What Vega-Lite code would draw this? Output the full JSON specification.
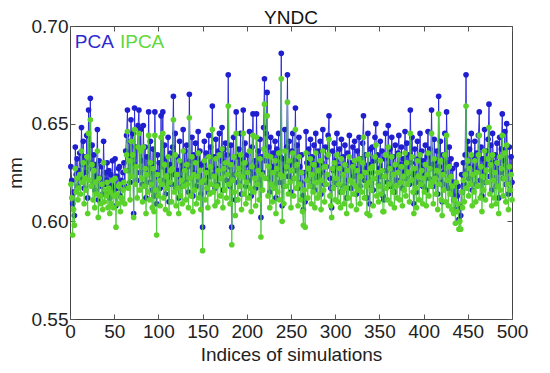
{
"$schema":"https://vega.github.io/schema/vega-lite/v6.json",
"width":442,"height":293,
"autosize":{"type":"none"},
"padding":{"left":70,"top":26,"right":38,"bottom":54},
"background":"white",
"config":{"font":"Liberation Sans","view":{"stroke":"#444","strokeWidth":1}},
"title":{"text":"YNDC","fontSize":19,"fontWeight":"normal","color":"#111","offset":-11},
"datasets":{"d":[
{"i":1,"p":0.628,"q":0.619},{"i":2,"p":0.621,"q":0.612},{"i":3,"p":0.609,"q":0.593},{"i":4,"p":0.615,"q":0.606},{"i":5,"p":0.603,"q":0.598},{"i":6,"p":0.638,"q":0.627},{"i":7,"p":0.624,"q":0.615},{"i":8,"p":0.632,"q":0.622},{"i":9,"p":0.618,"q":0.611},{"i":10,"p":0.626,"q":0.617},
{"i":11,"p":0.635,"q":0.624},{"i":12,"p":0.622,"q":0.614},{"i":13,"p":0.648,"q":0.636},{"i":14,"p":0.629,"q":0.62},{"i":15,"p":0.641,"q":0.63},{"i":16,"p":0.617,"q":0.609},{"i":17,"p":0.633,"q":0.622},{"i":18,"p":0.625,"q":0.616},{"i":19,"p":0.644,"q":0.633},{"i":20,"p":0.612,"q":0.604},
{"i":21,"p":0.657,"q":0.645},{"i":22,"p":0.63,"q":0.621},{"i":23,"p":0.663,"q":0.652},{"i":24,"p":0.627,"q":0.618},{"i":25,"p":0.639,"q":0.629},{"i":26,"p":0.62,"q":0.611},{"i":27,"p":0.634,"q":0.626},{"i":28,"p":0.616,"q":0.607},{"i":29,"p":0.629,"q":0.62},{"i":30,"p":0.623,"q":0.614},
{"i":31,"p":0.647,"q":0.636},{"i":32,"p":0.611,"q":0.602},{"i":33,"p":0.631,"q":0.622},{"i":34,"p":0.622,"q":0.613},{"i":35,"p":0.618,"q":0.609},{"i":36,"p":0.628,"q":0.619},{"i":37,"p":0.614,"q":0.606},{"i":38,"p":0.641,"q":0.63},{"i":39,"p":0.619,"q":0.61},{"i":40,"p":0.625,"q":0.616},
{"i":41,"p":0.621,"q":0.613},{"i":42,"p":0.63,"q":0.62},{"i":43,"p":0.615,"q":0.607},{"i":44,"p":0.626,"q":0.617},{"i":45,"p":0.612,"q":0.604},{"i":46,"p":0.624,"q":0.615},{"i":47,"p":0.618,"q":0.609},{"i":48,"p":0.631,"q":0.621},{"i":49,"p":0.616,"q":0.607},{"i":50,"p":0.622,"q":0.613},
{"i":51,"p":0.632,"q":0.622},{"i":52,"p":0.608,"q":0.597},{"i":53,"p":0.623,"q":0.614},{"i":54,"p":0.617,"q":0.609},{"i":55,"p":0.627,"q":0.618},{"i":56,"p":0.628,"q":0.619},{"i":57,"p":0.613,"q":0.605},{"i":58,"p":0.621,"q":0.612},{"i":59,"p":0.619,"q":0.61},{"i":60,"p":0.625,"q":0.616},
{"i":61,"p":0.63,"q":0.62},{"i":62,"p":0.618,"q":0.609},{"i":63,"p":0.636,"q":0.626},{"i":64,"p":0.644,"q":0.634},{"i":65,"p":0.657,"q":0.646},{"i":66,"p":0.626,"q":0.617},{"i":67,"p":0.641,"q":0.631},{"i":68,"p":0.62,"q":0.611},{"i":69,"p":0.652,"q":0.641},{"i":70,"p":0.633,"q":0.623},
{"i":71,"p":0.645,"q":0.634},{"i":72,"p":0.604,"q":0.602},{"i":73,"p":0.658,"q":0.647},{"i":74,"p":0.629,"q":0.619},{"i":75,"p":0.638,"q":0.628},{"i":76,"p":0.621,"q":0.612},{"i":77,"p":0.649,"q":0.638},{"i":78,"p":0.657,"q":0.645},{"i":79,"p":0.625,"q":0.616},{"i":80,"p":0.647,"q":0.636},
{"i":81,"p":0.631,"q":0.622},{"i":82,"p":0.619,"q":0.61},{"i":83,"p":0.649,"q":0.638},{"i":84,"p":0.627,"q":0.618},{"i":85,"p":0.638,"q":0.627},{"i":86,"p":0.612,"q":0.604},{"i":87,"p":0.633,"q":0.624},{"i":88,"p":0.624,"q":0.615},{"i":89,"p":0.656,"q":0.644},{"i":90,"p":0.62,"q":0.611},
{"i":91,"p":0.641,"q":0.63},{"i":92,"p":0.628,"q":0.619},{"i":93,"p":0.616,"q":0.607},{"i":94,"p":0.637,"q":0.627},{"i":95,"p":0.613,"q":0.605},{"i":96,"p":0.656,"q":0.644},{"i":97,"p":0.625,"q":0.616},{"i":98,"p":0.609,"q":0.593},{"i":99,"p":0.634,"q":0.624},{"i":100,"p":0.622,"q":0.613},
{"i":101,"p":0.63,"q":0.621},{"i":102,"p":0.617,"q":0.608},{"i":103,"p":0.654,"q":0.643},{"i":104,"p":0.628,"q":0.619},{"i":105,"p":0.656,"q":0.645},{"i":106,"p":0.621,"q":0.612},{"i":107,"p":0.639,"q":0.629},{"i":108,"p":0.614,"q":0.606},{"i":109,"p":0.632,"q":0.623},{"i":110,"p":0.626,"q":0.617},
{"i":111,"p":0.643,"q":0.633},{"i":112,"p":0.61,"q":0.604},{"i":113,"p":0.629,"q":0.62},{"i":114,"p":0.635,"q":0.626},{"i":115,"p":0.619,"q":0.61},{"i":116,"p":0.638,"q":0.627},{"i":117,"p":0.664,"q":0.652},{"i":118,"p":0.624,"q":0.615},{"i":119,"p":0.645,"q":0.634},{"i":120,"p":0.617,"q":0.608},
{"i":121,"p":0.633,"q":0.624},{"i":122,"p":0.626,"q":0.617},{"i":123,"p":0.612,"q":0.604},{"i":124,"p":0.641,"q":0.631},{"i":125,"p":0.622,"q":0.613},{"i":126,"p":0.63,"q":0.621},{"i":127,"p":0.618,"q":0.609},{"i":128,"p":0.647,"q":0.636},{"i":129,"p":0.627,"q":0.618},{"i":130,"p":0.636,"q":0.626},
{"i":131,"p":0.62,"q":0.611},{"i":132,"p":0.639,"q":0.629},{"i":133,"p":0.628,"q":0.619},{"i":134,"p":0.615,"q":0.607},{"i":135,"p":0.665,"q":0.653},{"i":136,"p":0.631,"q":0.622},{"i":137,"p":0.622,"q":0.613},{"i":138,"p":0.643,"q":0.633},{"i":139,"p":0.613,"q":0.605},{"i":140,"p":0.634,"q":0.624},
{"i":141,"p":0.625,"q":0.616},{"i":142,"p":0.64,"q":0.63},{"i":143,"p":0.618,"q":0.609},{"i":144,"p":0.632,"q":0.623},{"i":145,"p":0.646,"q":0.635},{"i":146,"p":0.621,"q":0.612},{"i":147,"p":0.636,"q":0.626},{"i":148,"p":0.614,"q":0.606},{"i":149,"p":0.629,"q":0.62},{"i":150,"p":0.597,"q":0.585},
{"i":151,"p":0.63,"q":0.621},{"i":152,"p":0.641,"q":0.631},{"i":153,"p":0.62,"q":0.611},{"i":154,"p":0.635,"q":0.625},{"i":155,"p":0.626,"q":0.617},{"i":156,"p":0.615,"q":0.607},{"i":157,"p":0.644,"q":0.633},{"i":158,"p":0.623,"q":0.614},{"i":159,"p":0.638,"q":0.628},{"i":160,"p":0.628,"q":0.619},
{"i":161,"p":0.659,"q":0.647},{"i":162,"p":0.624,"q":0.615},{"i":163,"p":0.633,"q":0.623},{"i":164,"p":0.617,"q":0.608},{"i":165,"p":0.642,"q":0.632},{"i":166,"p":0.627,"q":0.618},{"i":167,"p":0.619,"q":0.61},{"i":168,"p":0.636,"q":0.626},{"i":169,"p":0.645,"q":0.634},{"i":170,"p":0.622,"q":0.613},
{"i":171,"p":0.631,"q":0.622},{"i":172,"p":0.648,"q":0.637},{"i":173,"p":0.616,"q":0.607},{"i":174,"p":0.637,"q":0.627},{"i":175,"p":0.625,"q":0.616},{"i":176,"p":0.64,"q":0.63},{"i":177,"p":0.621,"q":0.612},{"i":178,"p":0.634,"q":0.624},{"i":179,"p":0.675,"q":0.659},{"i":180,"p":0.628,"q":0.619},
{"i":181,"p":0.618,"q":0.609},{"i":182,"p":0.639,"q":0.629},{"i":183,"p":0.597,"q":0.588},{"i":184,"p":0.63,"q":0.621},{"i":185,"p":0.643,"q":0.633},{"i":186,"p":0.624,"q":0.615},{"i":187,"p":0.611,"q":0.603},{"i":188,"p":0.656,"q":0.645},{"i":189,"p":0.633,"q":0.624},{"i":190,"p":0.62,"q":0.611},
{"i":191,"p":0.637,"q":0.627},{"i":192,"p":0.627,"q":0.618},{"i":193,"p":0.645,"q":0.634},{"i":194,"p":0.614,"q":0.606},{"i":195,"p":0.632,"q":0.623},{"i":196,"p":0.657,"q":0.645},{"i":197,"p":0.623,"q":0.614},{"i":198,"p":0.64,"q":0.63},{"i":199,"p":0.618,"q":0.609},{"i":200,"p":0.629,"q":0.62},
{"i":201,"p":0.634,"q":0.625},{"i":202,"p":0.621,"q":0.612},{"i":203,"p":0.646,"q":0.636},{"i":204,"p":0.626,"q":0.617},{"i":205,"p":0.613,"q":0.605},{"i":206,"p":0.638,"q":0.628},{"i":207,"p":0.655,"q":0.644},{"i":208,"p":0.624,"q":0.615},{"i":209,"p":0.631,"q":0.622},{"i":210,"p":0.617,"q":0.608},
{"i":211,"p":0.655,"q":0.643},{"i":212,"p":0.628,"q":0.619},{"i":213,"p":0.636,"q":0.626},{"i":214,"p":0.62,"q":0.611},{"i":215,"p":0.642,"q":0.632},{"i":216,"p":0.602,"q":0.592},{"i":217,"p":0.633,"q":0.624},{"i":218,"p":0.625,"q":0.616},{"i":219,"p":0.648,"q":0.637},{"i":220,"p":0.673,"q":0.66},
{"i":221,"p":0.631,"q":0.622},{"i":222,"p":0.645,"q":0.634},{"i":223,"p":0.666,"q":0.654},{"i":224,"p":0.622,"q":0.613},{"i":225,"p":0.638,"q":0.628},{"i":226,"p":0.615,"q":0.607},{"i":227,"p":0.643,"q":0.633},{"i":228,"p":0.628,"q":0.619},{"i":229,"p":0.619,"q":0.61},{"i":230,"p":0.635,"q":0.625},
{"i":231,"p":0.626,"q":0.617},{"i":232,"p":0.641,"q":0.631},{"i":233,"p":0.612,"q":0.604},{"i":234,"p":0.637,"q":0.627},{"i":235,"p":0.624,"q":0.615},{"i":236,"p":0.645,"q":0.635},{"i":237,"p":0.62,"q":0.611},{"i":238,"p":0.633,"q":0.624},{"i":239,"p":0.686,"q":0.673},{"i":240,"p":0.608,"q":0.6},
{"i":241,"p":0.632,"q":0.623},{"i":242,"p":0.618,"q":0.609},{"i":243,"p":0.647,"q":0.636},{"i":244,"p":0.627,"q":0.618},{"i":245,"p":0.638,"q":0.628},{"i":246,"p":0.675,"q":0.661},{"i":247,"p":0.623,"q":0.614},{"i":248,"p":0.641,"q":0.631},{"i":249,"p":0.629,"q":0.62},{"i":250,"p":0.615,"q":0.607},
{"i":251,"p":0.636,"q":0.626},{"i":252,"p":0.645,"q":0.635},{"i":253,"p":0.622,"q":0.613},{"i":254,"p":0.631,"q":0.622},{"i":255,"p":0.658,"q":0.647},{"i":256,"p":0.626,"q":0.617},{"i":257,"p":0.639,"q":0.629},{"i":258,"p":0.617,"q":0.608},{"i":259,"p":0.643,"q":0.633},{"i":260,"p":0.628,"q":0.619},
{"i":261,"p":0.62,"q":0.611},{"i":262,"p":0.634,"q":0.625},{"i":263,"p":0.613,"q":0.605},{"i":264,"p":0.606,"q":0.598},{"i":265,"p":0.625,"q":0.616},{"i":266,"p":0.61,"q":0.597},{"i":267,"p":0.646,"q":0.635},{"i":268,"p":0.63,"q":0.621},{"i":269,"p":0.621,"q":0.612},{"i":270,"p":0.637,"q":0.627},
{"i":271,"p":0.627,"q":0.618},{"i":272,"p":0.642,"q":0.632},{"i":273,"p":0.618,"q":0.609},{"i":274,"p":0.633,"q":0.624},{"i":275,"p":0.624,"q":0.615},{"i":276,"p":0.639,"q":0.629},{"i":277,"p":0.616,"q":0.607},{"i":278,"p":0.645,"q":0.635},{"i":279,"p":0.629,"q":0.62},{"i":280,"p":0.621,"q":0.612},
{"i":281,"p":0.636,"q":0.626},{"i":282,"p":0.623,"q":0.614},{"i":283,"p":0.641,"q":0.631},{"i":284,"p":0.614,"q":0.606},{"i":285,"p":0.63,"q":0.621},{"i":286,"p":0.647,"q":0.636},{"i":287,"p":0.625,"q":0.616},{"i":288,"p":0.619,"q":0.61},{"i":289,"p":0.638,"q":0.628},{"i":290,"p":0.628,"q":0.619},
{"i":291,"p":0.633,"q":0.624},{"i":292,"p":0.644,"q":0.634},{"i":293,"p":0.654,"q":0.642},{"i":294,"p":0.622,"q":0.613},{"i":295,"p":0.617,"q":0.608},{"i":296,"p":0.607,"q":0.602},{"i":297,"p":0.636,"q":0.627},{"i":298,"p":0.626,"q":0.617},{"i":299,"p":0.64,"q":0.63},{"i":300,"p":0.62,"q":0.611},
{"i":301,"p":0.631,"q":0.622},{"i":302,"p":0.645,"q":0.634},{"i":303,"p":0.619,"q":0.61},{"i":304,"p":0.628,"q":0.619},{"i":305,"p":0.637,"q":0.627},{"i":306,"p":0.615,"q":0.607},{"i":307,"p":0.642,"q":0.632},{"i":308,"p":0.624,"q":0.615},{"i":309,"p":0.633,"q":0.624},{"i":310,"p":0.618,"q":0.609},
{"i":311,"p":0.639,"q":0.629},{"i":312,"p":0.626,"q":0.617},{"i":313,"p":0.612,"q":0.604},{"i":314,"p":0.635,"q":0.626},{"i":315,"p":0.621,"q":0.612},{"i":316,"p":0.644,"q":0.633},{"i":317,"p":0.63,"q":0.621},{"i":318,"p":0.617,"q":0.608},{"i":319,"p":0.629,"q":0.62},{"i":320,"p":0.638,"q":0.628},
{"i":321,"p":0.623,"q":0.614},{"i":322,"p":0.641,"q":0.631},{"i":323,"p":0.627,"q":0.618},{"i":324,"p":0.614,"q":0.606},{"i":325,"p":0.636,"q":0.626},{"i":326,"p":0.625,"q":0.616},{"i":327,"p":0.643,"q":0.632},{"i":328,"p":0.618,"q":0.609},{"i":329,"p":0.632,"q":0.623},{"i":330,"p":0.624,"q":0.615},
{"i":331,"p":0.64,"q":0.63},{"i":332,"p":0.654,"q":0.643},{"i":333,"p":0.621,"q":0.612},{"i":334,"p":0.634,"q":0.625},{"i":335,"p":0.627,"q":0.618},{"i":336,"p":0.612,"q":0.604},{"i":337,"p":0.645,"q":0.634},{"i":338,"p":0.629,"q":0.62},{"i":339,"p":0.609,"q":0.603},{"i":340,"p":0.637,"q":0.627},
{"i":341,"p":0.625,"q":0.616},{"i":342,"p":0.638,"q":0.628},{"i":343,"p":0.616,"q":0.608},{"i":344,"p":0.631,"q":0.622},{"i":345,"p":0.643,"q":0.633},{"i":346,"p":0.65,"q":0.639},{"i":347,"p":0.622,"q":0.613},{"i":348,"p":0.634,"q":0.625},{"i":349,"p":0.619,"q":0.61},{"i":350,"p":0.627,"q":0.618},
{"i":351,"p":0.641,"q":0.631},{"i":352,"p":0.623,"q":0.614},{"i":353,"p":0.636,"q":0.626},{"i":354,"p":0.613,"q":0.605},{"i":355,"p":0.611,"q":0.605},{"i":356,"p":0.632,"q":0.623},{"i":357,"p":0.645,"q":0.634},{"i":358,"p":0.626,"q":0.617},{"i":359,"p":0.62,"q":0.611},{"i":360,"p":0.649,"q":0.638},
{"i":361,"p":0.628,"q":0.619},{"i":362,"p":0.637,"q":0.627},{"i":363,"p":0.618,"q":0.609},{"i":364,"p":0.643,"q":0.633},{"i":365,"p":0.624,"q":0.615},{"i":366,"p":0.633,"q":0.624},{"i":367,"p":0.615,"q":0.607},{"i":368,"p":0.639,"q":0.629},{"i":369,"p":0.627,"q":0.618},{"i":370,"p":0.621,"q":0.612},
{"i":371,"p":0.635,"q":0.625},{"i":372,"p":0.644,"q":0.634},{"i":373,"p":0.62,"q":0.611},{"i":374,"p":0.629,"q":0.62},{"i":375,"p":0.638,"q":0.628},{"i":376,"p":0.617,"q":0.608},{"i":377,"p":0.632,"q":0.623},{"i":378,"p":0.625,"q":0.616},{"i":379,"p":0.646,"q":0.635},{"i":380,"p":0.622,"q":0.613},
{"i":381,"p":0.64,"q":0.63},{"i":382,"p":0.628,"q":0.619},{"i":383,"p":0.634,"q":0.625},{"i":384,"p":0.619,"q":0.61},{"i":385,"p":0.657,"q":0.645},{"i":386,"p":0.63,"q":0.621},{"i":387,"p":0.643,"q":0.633},{"i":388,"p":0.624,"q":0.615},{"i":389,"p":0.609,"q":0.604},{"i":390,"p":0.637,"q":0.627},
{"i":391,"p":0.626,"q":0.617},{"i":392,"p":0.615,"q":0.607},{"i":393,"p":0.641,"q":0.631},{"i":394,"p":0.632,"q":0.623},{"i":395,"p":0.62,"q":0.611},{"i":396,"p":0.645,"q":0.634},{"i":397,"p":0.628,"q":0.619},{"i":398,"p":0.636,"q":0.626},{"i":399,"p":0.618,"q":0.609},{"i":400,"p":0.631,"q":0.622},
{"i":401,"p":0.624,"q":0.615},{"i":402,"p":0.639,"q":0.629},{"i":403,"p":0.616,"q":0.608},{"i":404,"p":0.633,"q":0.624},{"i":405,"p":0.646,"q":0.635},{"i":406,"p":0.622,"q":0.613},{"i":407,"p":0.637,"q":0.627},{"i":408,"p":0.627,"q":0.618},{"i":409,"p":0.657,"q":0.645},{"i":410,"p":0.629,"q":0.62},
{"i":411,"p":0.618,"q":0.609},{"i":412,"p":0.642,"q":0.632},{"i":413,"p":0.631,"q":0.622},{"i":414,"p":0.623,"q":0.614},{"i":415,"p":0.636,"q":0.626},{"i":416,"p":0.614,"q":0.606},{"i":417,"p":0.664,"q":0.655},{"i":418,"p":0.628,"q":0.619},{"i":419,"p":0.641,"q":0.631},{"i":420,"p":0.62,"q":0.611},
{"i":421,"p":0.61,"q":0.603},{"i":422,"p":0.634,"q":0.624},{"i":423,"p":0.625,"q":0.616},{"i":424,"p":0.645,"q":0.634},{"i":425,"p":0.619,"q":0.61},{"i":426,"p":0.656,"q":0.644},{"i":427,"p":0.63,"q":0.621},{"i":428,"p":0.617,"q":0.608},{"i":429,"p":0.638,"q":0.628},{"i":430,"p":0.623,"q":0.614},
{"i":431,"p":0.632,"q":0.623},{"i":432,"p":0.614,"q":0.606},{"i":433,"p":0.627,"q":0.618},{"i":434,"p":0.611,"q":0.604},{"i":435,"p":0.62,"q":0.611},{"i":436,"p":0.606,"q":0.599},{"i":437,"p":0.629,"q":0.62},{"i":438,"p":0.613,"q":0.605},{"i":439,"p":0.618,"q":0.609},{"i":440,"p":0.601,"q":0.596},
{"i":441,"p":0.608,"q":0.6},{"i":442,"p":0.603,"q":0.596},{"i":443,"p":0.624,"q":0.615},{"i":444,"p":0.615,"q":0.607},{"i":445,"p":0.63,"q":0.621},{"i":446,"p":0.619,"q":0.61},{"i":447,"p":0.634,"q":0.624},{"i":448,"p":0.675,"q":0.659},{"i":449,"p":0.626,"q":0.617},{"i":450,"p":0.641,"q":0.631},
{"i":451,"p":0.622,"q":0.613},{"i":452,"p":0.637,"q":0.627},{"i":453,"p":0.628,"q":0.619},{"i":454,"p":0.645,"q":0.634},{"i":455,"p":0.616,"q":0.608},{"i":456,"p":0.633,"q":0.624},{"i":457,"p":0.624,"q":0.615},{"i":458,"p":0.641,"q":0.631},{"i":459,"p":0.619,"q":0.61},{"i":460,"p":0.635,"q":0.625},
{"i":461,"p":0.627,"q":0.618},{"i":462,"p":0.644,"q":0.634},{"i":463,"p":0.656,"q":0.644},{"i":464,"p":0.621,"q":0.612},{"i":465,"p":0.638,"q":0.628},{"i":466,"p":0.613,"q":0.605},{"i":467,"p":0.632,"q":0.623},{"i":468,"p":0.625,"q":0.616},{"i":469,"p":0.647,"q":0.636},{"i":470,"p":0.62,"q":0.611},
{"i":471,"p":0.636,"q":0.626},{"i":472,"p":0.629,"q":0.62},{"i":473,"p":0.642,"q":0.632},{"i":474,"p":0.66,"q":0.648},{"i":475,"p":0.623,"q":0.614},{"i":476,"p":0.639,"q":0.629},{"i":477,"p":0.616,"q":0.608},{"i":478,"p":0.645,"q":0.634},{"i":479,"p":0.63,"q":0.621},{"i":480,"p":0.621,"q":0.612},
{"i":481,"p":0.634,"q":0.625},{"i":482,"p":0.618,"q":0.609},{"i":483,"p":0.64,"q":0.63},{"i":484,"p":0.627,"q":0.618},{"i":485,"p":0.612,"q":0.604},{"i":486,"p":0.643,"q":0.633},{"i":487,"p":0.625,"q":0.616},{"i":488,"p":0.637,"q":0.627},{"i":489,"p":0.655,"q":0.644},{"i":490,"p":0.622,"q":0.613},
{"i":491,"p":0.631,"q":0.622},{"i":492,"p":0.646,"q":0.635},{"i":493,"p":0.619,"q":0.61},{"i":494,"p":0.65,"q":0.639},{"i":495,"p":0.628,"q":0.619},{"i":496,"p":0.614,"q":0.606},{"i":497,"p":0.638,"q":0.628},{"i":498,"p":0.625,"q":0.616},{"i":499,"p":0.633,"q":0.624},{"i":500,"p":0.62,"q":0.611}
]},
"resolve":{"axis":{"x":"independent","y":"independent"}},
"layer":[
{"data":{"name":"d"},
 "mark":{"type":"line","color":"#2424d6","strokeWidth":0.9,"point":{"filled":true,"size":32,"color":"#1f1fd0","opacity":1}},
 "encoding":{
  "x":{"field":"i","type":"quantitative","scale":{"domain":[0,500],"nice":false},
       "axis":{"orient":"bottom","values":[0,50,100,150,200,250,300,350,400,450,500],"title":"Indices of simulations","labelFontSize":19,"titleFontSize":19,"titleFontWeight":"normal","labelColor":"#222","titleColor":"#222","domain":false,"grid":false,"tickSize":-5,"tickColor":"#555","labelPadding":8,"titlePadding":4,"labelFlush":false}},
  "y":{"field":"p","type":"quantitative","scale":{"domain":[0.55,0.7],"zero":false,"nice":false},
       "axis":{"orient":"left","values":[0.55,0.6,0.65,0.7],"format":".2f","title":"mm","labelFontSize":19,"titleFontSize":19,"titleFontWeight":"normal","labelColor":"#222","titleColor":"#222","domain":false,"grid":false,"tickSize":-5,"tickColor":"#555","labelPadding":7,"titlePadding":6,"labelFlush":false}}
 }},
{"data":{"name":"d"},
 "mark":{"type":"line","color":"#4cc63a","strokeWidth":0.9,"point":{"filled":true,"size":32,"color":"#5ad22a","opacity":1}},
 "encoding":{
  "x":{"field":"i","type":"quantitative",
       "axis":{"orient":"top","values":[0,50,100,150,200,250,300,350,400,450,500],"labels":false,"title":null,"domain":false,"grid":false,"tickSize":-5,"tickColor":"#555"}},
  "y":{"field":"q","type":"quantitative",
       "axis":{"orient":"right","values":[0.55,0.6,0.65,0.7],"labels":false,"title":null,"domain":false,"grid":false,"tickSize":-5,"tickColor":"#555"}}
 }},
{"data":{"values":[{"t":"PCA"}]},
 "mark":{"type":"text","align":"left","baseline":"middle","fontSize":19,"color":"#2b2bd2"},
 "encoding":{"text":{"field":"t"},"x":{"datum":5.5,"type":"quantitative","axis":null},"y":{"datum":0.6918,"type":"quantitative","axis":null}}},
{"data":{"values":[{"t":"IPCA"}]},
 "mark":{"type":"text","align":"left","baseline":"middle","fontSize":19,"color":"#5fd83a"},
 "encoding":{"text":{"field":"t"},"x":{"datum":56.5,"type":"quantitative","axis":null},"y":{"datum":0.6918,"type":"quantitative","axis":null}}}
]
}
